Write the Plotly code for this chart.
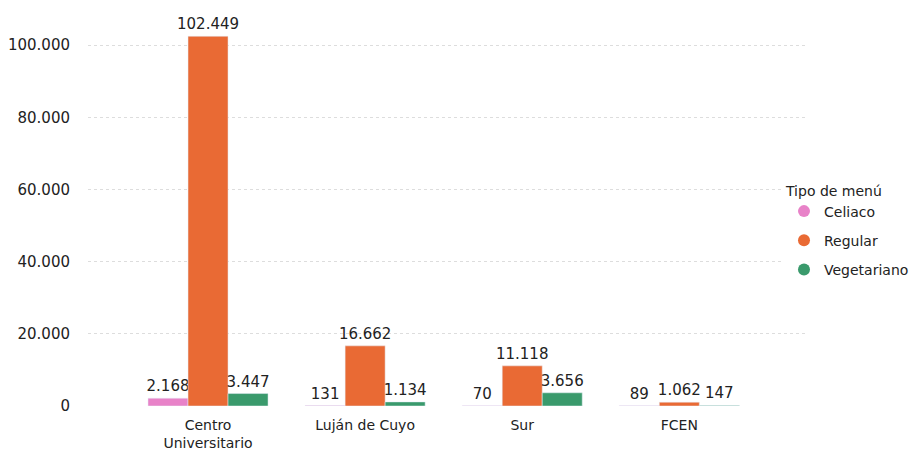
import plotly.graph_objects as go

categories = ["Centro<br>Universitario", "Luján de Cuyo", "Sur", "FCEN"]
celiaco = [2168, 131, 70, 89]
regular = [102449, 16662, 11118, 1062]
vegetariano = [3447, 1134, 3656, 147]
series_names = ["Celiaco", "Regular", "Vegetariano"]
colors = ["#E882C8", "#E96A34", "#3A9A6C"]
y_ticks = [0, 20000, 40000, 60000, 80000, 100000]

font = "'DejaVu Sans', Verdana, sans-serif"
fig = go.Figure()
for name, vals, col in zip(series_names, [celiaco, regular, vegetariano], colors):
    fig.add_trace(go.Bar(
        x=categories, y=vals, name=name, marker_color=col,
        text=vals, texttemplate="%{y:,}", textposition="outside",
        textfont=dict(size=15, color="#222"), cliponaxis=False,
        constraintext="none", showlegend=False,
    ))
    fig.add_trace(go.Scatter(
        x=[None], y=[None], mode="markers", name=name, legendgroup=name,
        marker=dict(color=col, size=11, symbol="circle"),
    ))

fig.update_layout(
    width=912, height=463,
    margin=dict(l=88, r=107, t=9, b=57, autoexpand=False),
    paper_bgcolor="white", plot_bgcolor="white",
    separators=",.",
    barmode="group", bargap=0.236, bargroupgap=0,
    font=dict(family=font, size=14, color="#222"),
    legend=dict(
        title=dict(text="Tipo de menú", font=dict(size=14, color="#222")),
        x=(784 - 88) / 717, xanchor="left", y=0.44, yanchor="middle",
        font=dict(size=14, color="#222"), itemsizing="constant",
        traceorder="grouped", tracegroupgap=8, itemwidth=30,
    ),
)
fig.update_xaxes(
    range=[-0.764, 3.80], showgrid=False, showline=False, zeroline=False,
    ticks="outside", ticklen=6, tickcolor="rgba(0,0,0,0)",
    tickfont=dict(size=14, color="#222"), automargin=False,
)
fig.update_yaxes(
    range=[0, 110000], tickvals=y_ticks, tickformat=",d",
    showgrid=True, gridcolor="#dddddd", griddash="dot", gridwidth=1,
    zeroline=False, showline=False,
    ticks="outside", ticklen=14, tickcolor="rgba(0,0,0,0)",
    tickfont=dict(size=15, color="#222"), automargin=False,
)
fig.write_html("out.html", config={"displayModeBar": False},
               post_script="document.body.style.margin='0';")
